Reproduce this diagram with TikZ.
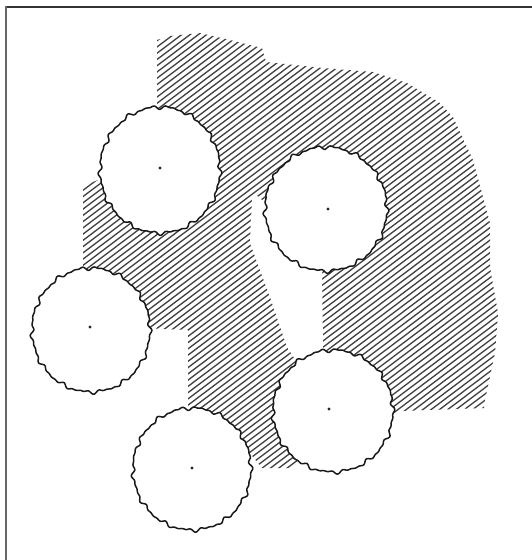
\documentclass[tikz,border=0pt]{standalone}
\begin{document}
\begin{tikzpicture}[x=1pt,y={(0pt,-1pt)}]
\tikzset{
  hatchline/.style={line width=1.3pt, draw=black!75},
  canopy/.style={line width=1.5pt, draw=black!90, fill=white, line join=round},
  trunkdot/.style={fill=black!85},
  frameleft/.style={line width=2pt, draw=black!60},
  frametop/.style={line width=2pt, draw=black!80},
  clearing/.style={fill=white},
}
\newcommand\treecanopy[5]{%
  \draw[canopy] plot[domain=0:359, samples=360]
    ({#1 + #3*cos(\x)*(1 + 0.014*sin(17*\x+#5) + 0.013*sin(29*\x+2*#5) + 0.011*sin(41*\x+3*#5))},
     {#2 + #4*sin(\x)*(1 + 0.014*sin(17*\x+#5) + 0.013*sin(29*\x+2*#5) + 0.011*sin(41*\x+3*#5))}) -- cycle;
}
\useasboundingbox (0,0) rectangle (532,560);
\fill[white] (0,0) rectangle (532,560);

% hatched ground
\begin{scope}
  \clip (157,40) -- (170,36) -- (200,33) -- (230,40) -- (262,48) -- (266,62)
     -- (323,68) -- (373,72) -- (407,83) -- (440,103) -- (453,117) -- (473,160)
     -- (482,193) -- (490,223) -- (490,267) -- (498,313) -- (495,353) -- (485,400)
     -- (484,408) -- (400,411) -- (330,440) -- (300,458) -- (293,468) -- (262,468)
     -- (249,452) -- (240,440) -- (188,420) -- (188,330) -- (140,328) -- (100,290)
     -- (83,275) -- (83,186) -- (98,180) -- (110,175) -- (157,120) -- cycle;
  \foreach \i in {0,...,140} {
    \draw[hatchline] ({-640+\i*8.3},560) -- ++(-37:1000);
  }
\end{scope}

% unhatched strip between the two right-hand trees
\fill[clearing] (252,197) -- (250,243) -- (270,297) -- (287,347) -- (297,362)
   -- (330,362) -- (323,347) -- (322,273) -- (326,255) -- (268,205) -- (256,195) -- cycle;

% trees
\treecanopy{160}{170}{60}{63}{5}
\treecanopy{326}{209}{61}{62}{20}
\treecanopy{91}{330}{59}{62}{35}
\treecanopy{192}{469}{59}{61}{50}
\treecanopy{333}{411}{60}{61}{60}

\coordinate (t1) at (160,168);
\coordinate (t2) at (328,209);
\coordinate (t3) at (90,327);
\coordinate (t4) at (192,468);
\coordinate (t5) at (329,409);
\foreach \t in {t1,t2,t3,t4,t5} \fill[trunkdot] (\t) circle (1.7pt);

% frame
\draw[frametop] (5,6.5) -- (532,6.5);
\draw[frameleft] (5.5,6) -- (5.5,560);
\end{tikzpicture}
\end{document}
